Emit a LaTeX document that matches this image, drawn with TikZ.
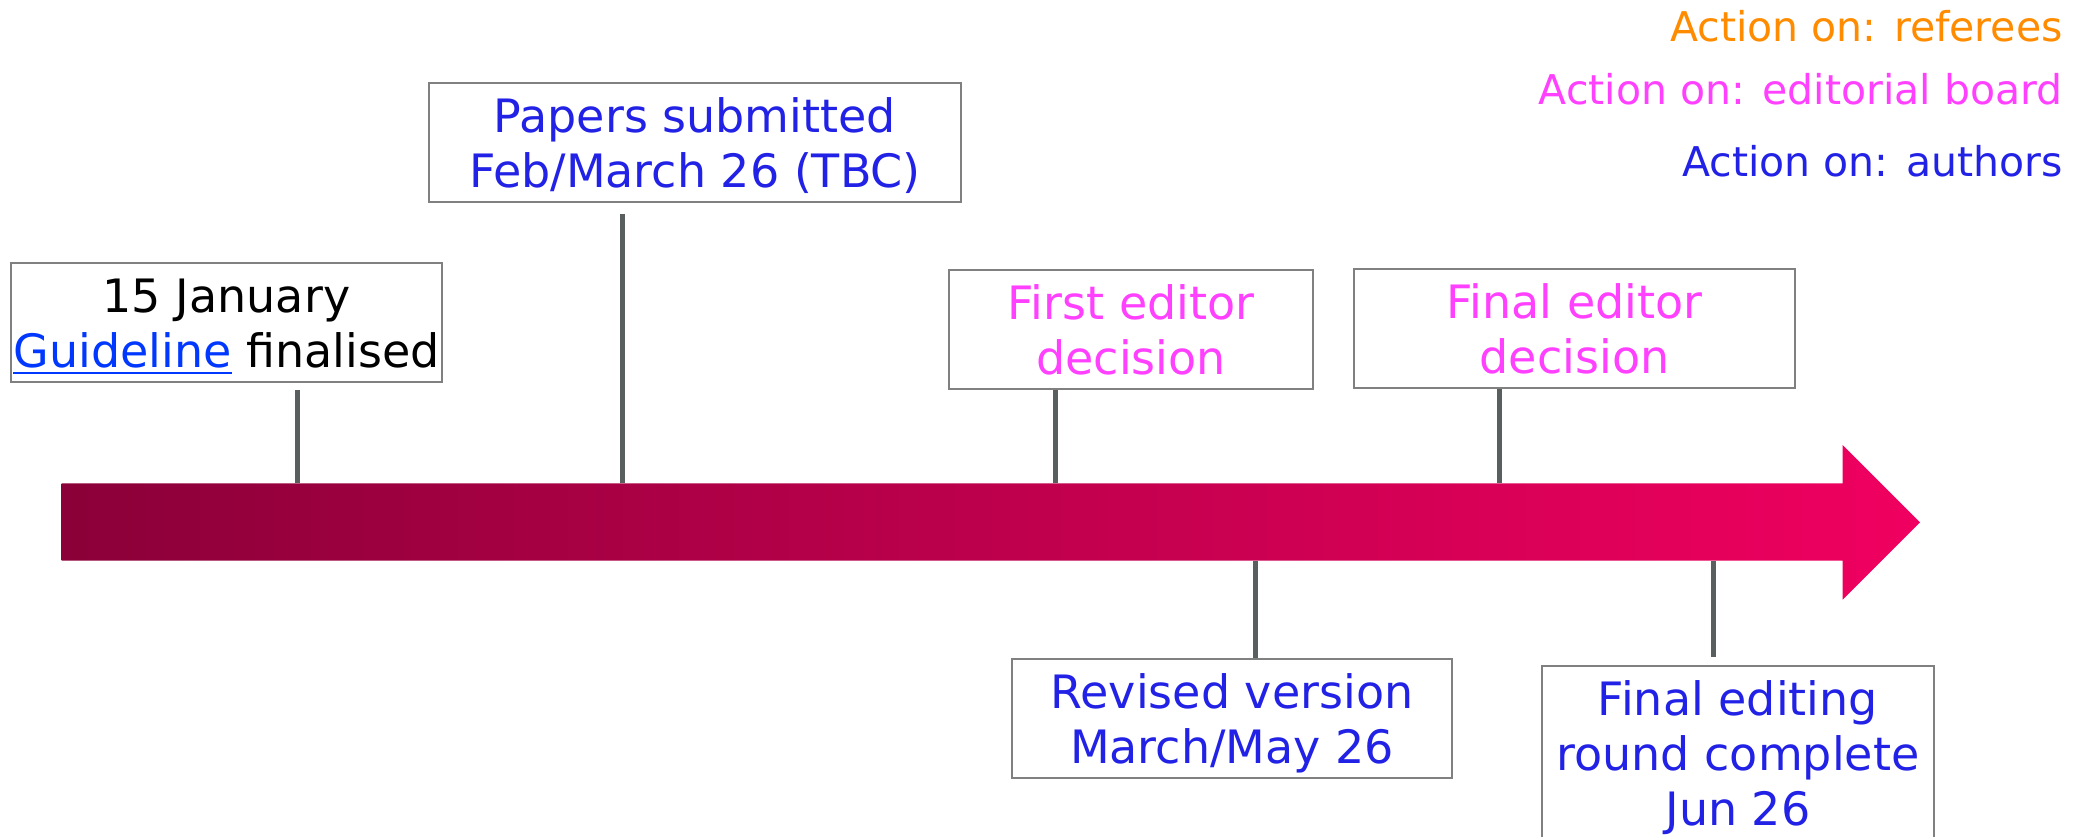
\documentclass[tikz,border=0pt]{standalone}
\usepackage{fontspec}
\setmainfont{DejaVu Sans}
\usetikzlibrary{calc}
\definecolor{cref}{RGB}{255,140,0}
\definecolor{cedit}{RGB}{255,64,255}
\definecolor{cauth}{RGB}{34,34,230}
\definecolor{clink}{RGB}{0,56,255}
\definecolor{cbord}{RGB}{128,128,128}
\definecolor{cstem}{RGB}{89,94,94}
\definecolor{arrL}{RGB}{139,0,56}
\definecolor{arrR}{RGB}{240,0,96}
\newcommand\ftop{\rule{0pt}{25pt}}
\newcommand\fbot{\rule[-7pt]{0pt}{7pt}}
\newcommand\ulink[1]{\setbox0=\hbox{#1}\rlap{\rule[-3pt]{\wd0}{0.8pt}}\box0}
\begin{document}
\begin{tikzpicture}[x=0.5pt,y=-0.5pt,
  evbox/.style={draw=cbord, line width=0.75pt, fill=white, inner xsep=0pt, inner ysep=0pt,
    align=center, anchor=north, font=\fontsize{23}{27.5}\selectfont},
  stem/.style={draw=cstem, line width=2.5pt},
  legend/.style={anchor=base east, inner sep=0pt, font=\fontsize{20.5}{24}\selectfont}]
\useasboundingbox (0,0) rectangle (2089,836);
\clip (0,0) rectangle (2089,836);

% timeline arrow
\shade[left color=arrL, right color=arrR]
  (61.7,483.3) -- (1842.7,483.3) -- (1842.7,445) -- (1920,522.3)
  -- (1842.7,599.6) -- (1842.7,560.7) -- (61.7,560.7) -- cycle;

% attachment points on the arrow
\coordinate (t1) at (297,483.3);
\coordinate (t2) at (622,483.3);
\coordinate (t3) at (1055,483.3);
\coordinate (t4) at (1499,483.3);
\coordinate (t5) at (1255,560.7);
\coordinate (t6) at (1713,560.7);

% event boxes
\node[evbox, minimum width=215.5pt] (B1) at (226.5,262)
  {\ftop 15 January\\ {\color{clink}\ulink{Guideline}} finalised\fbot};
\node[evbox, minimum width=266pt, text=cauth] (B2) at (695,82)
  {\ftop Papers submitted\\ Feb/March 26 (TBC)\fbot};
\node[evbox, minimum width=182pt, text=cedit] (B3) at (1131,269)
  {\ftop First editor\\ decision\fbot};
\node[evbox, minimum width=220.5pt, text=cedit] (B4) at (1574.5,268)
  {\ftop Final editor\\ decision\fbot};
\node[evbox, minimum width=220pt, text=cauth] (B5) at (1232,658)
  {\ftop Revised version\\ March/May 26\fbot};
\node[evbox, minimum width=196pt, text=cauth] (B6) at (1738,665)
  {\ftop Final editing\\ round complete\\ Jun 26\fbot};

% stems
\draw[stem, shorten <=3.5pt] (B1.south -| t1) -- (t1);
\draw[stem, shorten <=5.5pt] (B2.south -| t2) -- (t2);
\draw[stem] (B3.south -| t3) -- (t3);
\draw[stem] (B4.south -| t4) -- (t4);
\draw[stem] (B5.north -| t5) -- (t5);
\draw[stem, shorten <=4pt] (B6.north -| t6) -- (t6);

% legend
\node[legend, text=cref] (L1) at (2063,41.7) {Action on: referees};
\node[legend, text=cedit] (L2) at (2063,104.5) {Action on: editorial board};
\node[legend, text=cauth] (L3) at (2063,176.7) {Action on: authors};
\end{tikzpicture}
\end{document}
